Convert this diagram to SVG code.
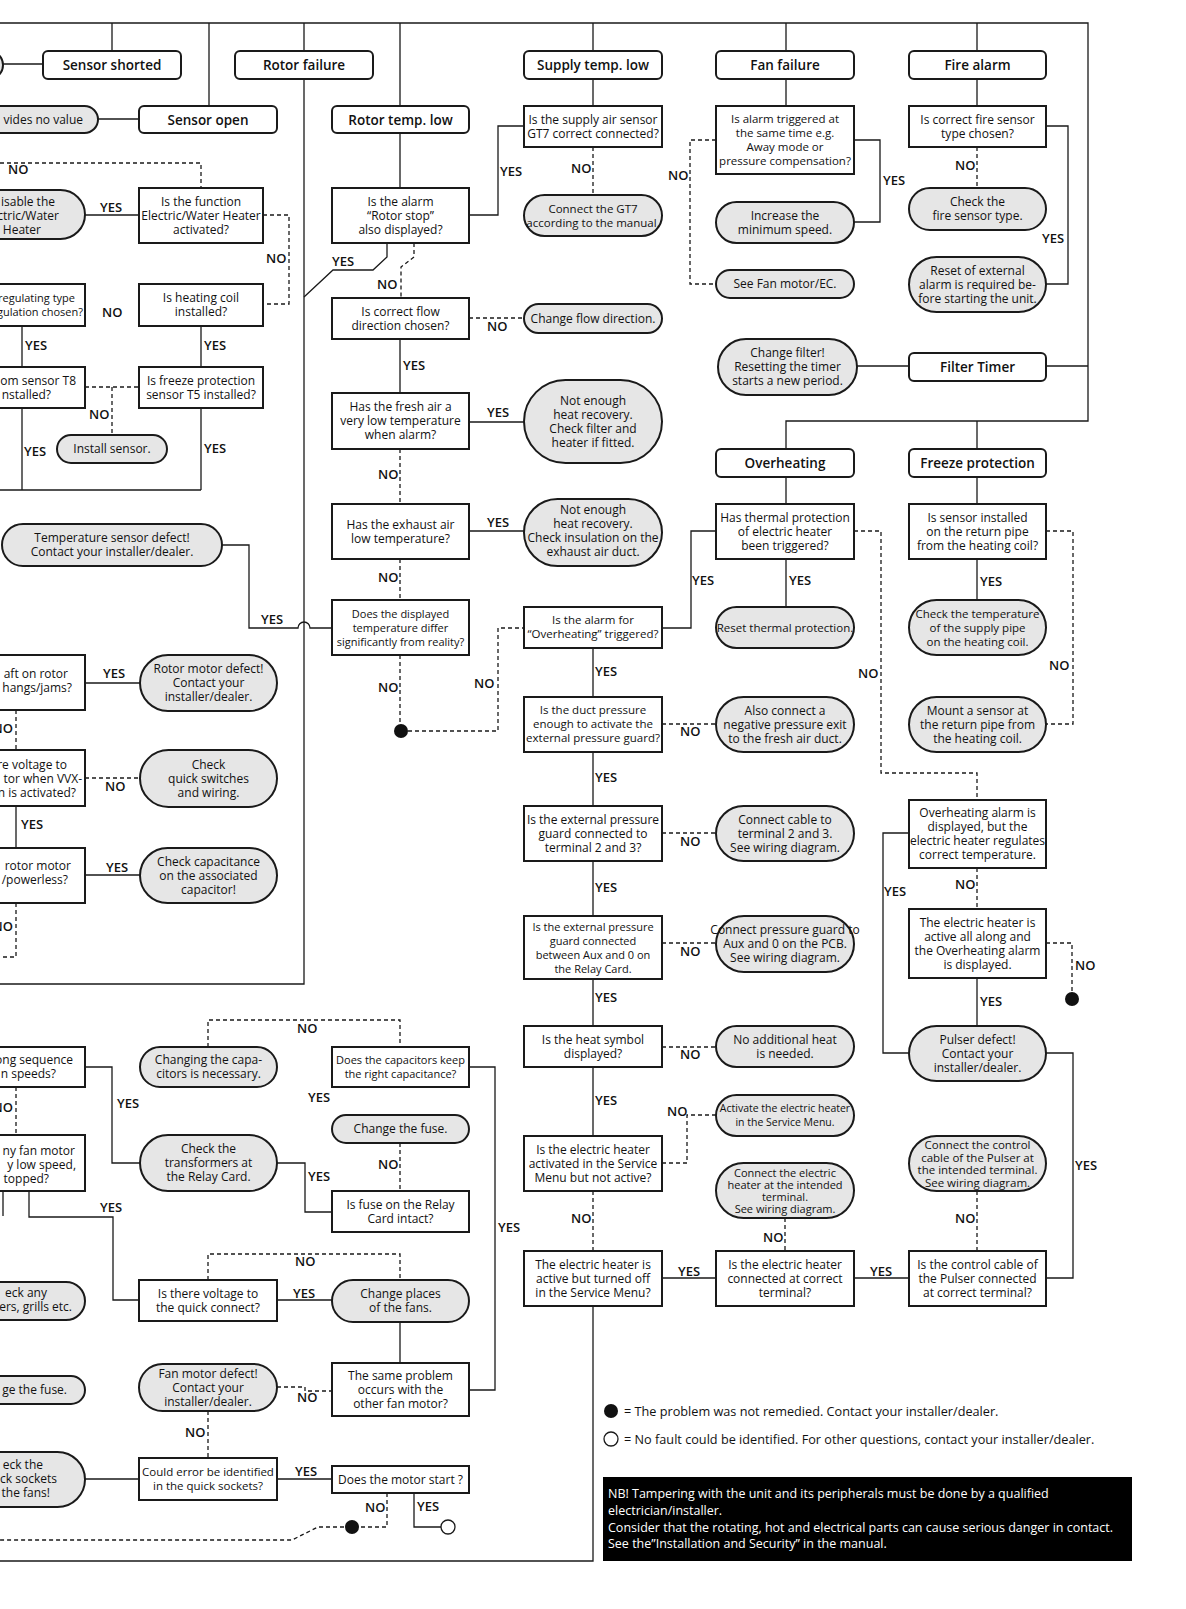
<svg xmlns="http://www.w3.org/2000/svg" width="1186" height="1609" viewBox="0 0 1186 1609">
<style>
.b{fill:#fff;stroke:#1a1a1a;stroke-width:2}
.o{fill:#e6e6e6;stroke:#1a1a1a;stroke-width:2}
.c{fill:none;stroke:#1a1a1a;stroke-width:1.3}
.d{fill:none;stroke:#1a1a1a;stroke-width:1.3;stroke-dasharray:4 3}
text{font-family:"Open Sans","DejaVu Sans",sans-serif;font-size:12px;fill:#111}
.t{text-anchor:middle}
.e{text-anchor:end}
.hd{font-size:13.5px;font-weight:600;text-anchor:middle}
.lb text{font-size:13px;font-weight:600}
.s11{font-size:11px}
.s115{font-size:11.5px}
.s105{font-size:10.5px}
.lg{font-size:12.7px}
.nb{font-size:12.5px;fill:#fff}
</style>
<rect width="1186" height="1609" fill="#fff"/>
<g id="connectors">
<path class="c" d="M0 23H1088V421H786V449M112 23V51M209 23V106M304 23V51M304 79V984H0M400 23V106M400 133V188M593 23V51M593 79V106M786 23V51M786 79V106M977 23V51M977 79V106M977 421V449"/>
<path class="c" d="M3 64H43M98 119H139M85 215H139M22 326V367M201 326V367M22 408V490M201 408V490M0 490H201"/>
<path class="c" d="M222 545H249V628H298A6 6 0 0 1 310 628H332"/>
<path class="c" d="M387 243V257L373 270H333L304 297M469 215H498V126H524M400 339V393M469 422H524M469 531H524M662 628H691V531H716"/>
<path class="c" d="M593 648V697M593 752V806M593 861V916M593 979V1026M593 1067V1136"/>
<path class="c" d="M854 140H880V222H854M1046 126H1068V284H1046M857 366H909M1046 366H1088M786 477V504M786 559V607M977 477V504M977 559V600"/>
<path class="c" d="M909 833H883V1053H909M977 978V1026M1046 1053H1073V1278H1046M854 1278H909M662 1278H716M593 1306V1561H0"/>
<path class="c" d="M85 683H140M16 806V848M85 875H140M85 1067H112V1163H140M277 1163H305V1212H332M469 1067H495V1390H469M29 1191V1217H113V1300H139M3 1191V1216M277 1300H332M400 1322V1363M85 1479H139M277 1479H332M414 1493V1527H441"/>
<path class="d" d="M0 163H201V188M263 215H289V304H263M85 387H139M112 387V435M414 243V257L401 267V298M593 147V195M469 318H524M400 449V504M400 559V600M400 655V724M401 731H498V628H524"/>
<path class="d" d="M716 140H690V284H716M977 147V188M662 724H716M662 833H716M662 943H716M662 1047H716M662 1163H687V1115H716M593 1191V1251M785 1218V1251"/>
<path class="d" d="M854 531H881V773H977V800M1046 531H1073V724H1046M977 868V909M1046 943H1072V992M977 1191V1251"/>
<path class="d" d="M16 710V750M85 778H140M16 903V957H0M208 1047V1020H400V1047M16 1087V1135M400 1143V1191M208 1280V1254H400V1280M277 1387H305V1391H332M208 1411V1458M387 1493V1527H318L292 1540H0"/>
<circle cx="401" cy="731" r="7" fill="#111"/>
<circle cx="1072" cy="999" r="7" fill="#111"/>
<circle cx="352" cy="1527" r="7" fill="#111"/>
<circle cx="448" cy="1527" r="7" fill="#fff" stroke="#1a1a1a" stroke-width="1.3"/>
</g>
<g id="labels" class="lb">
<text x="100" y="212">YES</text><text x="25" y="350">YES</text><text x="204" y="350">YES</text><text x="24" y="456">YES</text><text x="204" y="453">YES</text><text x="261" y="624">YES</text><text x="332" y="266">YES</text><text x="500" y="176">YES</text><text x="403" y="370">YES</text><text x="487" y="417">YES</text><text x="487" y="527">YES</text><text x="692" y="585">YES</text><text x="595" y="676">YES</text><text x="595" y="782">YES</text><text x="595" y="892">YES</text><text x="595" y="1002">YES</text><text x="595" y="1105">YES</text><text x="789" y="585">YES</text><text x="980" y="586">YES</text><text x="883" y="185">YES</text><text x="1042" y="243">YES</text><text x="884" y="896">YES</text><text x="980" y="1006">YES</text><text x="1075" y="1170">YES</text><text x="678" y="1276">YES</text><text x="870" y="1276">YES</text><text x="103" y="678">YES</text><text x="21" y="829">YES</text><text x="106" y="872">YES</text><text x="117" y="1108">YES</text><text x="308" y="1181">YES</text><text x="308" y="1102">YES</text><text x="498" y="1232">YES</text><text x="100" y="1212">YES</text><text x="293" y="1298">YES</text><text x="295" y="1476">YES</text><text x="417" y="1511">YES</text>
<text x="8" y="174">NO</text><text x="266" y="263">NO</text><text x="102" y="317">NO</text><text x="89" y="419">NO</text><text x="377" y="289">NO</text><text x="571" y="173">NO</text><text x="487" y="331">NO</text><text x="378" y="479">NO</text><text x="378" y="582">NO</text><text x="378" y="692">NO</text><text x="474" y="688">NO</text><text x="668" y="180">NO</text><text x="955" y="170">NO</text><text x="680" y="736">NO</text><text x="680" y="846">NO</text><text x="680" y="956">NO</text><text x="680" y="1059">NO</text><text x="667" y="1116">NO</text><text x="571" y="1223">NO</text><text x="763" y="1242">NO</text><text x="858" y="678">NO</text><text x="1049" y="670">NO</text><text x="955" y="889">NO</text><text x="1075" y="970">NO</text><text x="955" y="1223">NO</text><text x="105" y="791">NO</text><text x="297" y="1033">NO</text><text x="378" y="1169">NO</text><text x="295" y="1266">NO</text><text x="297" y="1402">NO</text><text x="185" y="1437">NO</text><text x="365" y="1512">NO</text>
<text class="e" x="13" y="733">NO</text><text class="e" x="13" y="931">NO</text><text class="e" x="13" y="1112">NO</text>
</g>
<g id="h-sensor-shorted"><rect class="b" x="43" y="51" width="138" height="28" rx="5"/><text class="hd" x="112" y="70">Sensor shorted</text></g>
<g id="h-rotor-failure"><rect class="b" x="235" y="51" width="138" height="28" rx="5"/><text class="hd" x="304" y="70">Rotor failure</text></g>
<g id="h-supply-temp"><rect class="b" x="524" y="51" width="138" height="28" rx="5"/><text class="hd" x="593" y="70">Supply temp. low</text></g>
<g id="h-fan-failure"><rect class="b" x="716" y="51" width="138" height="28" rx="5"/><text class="hd" x="785" y="70">Fan failure</text></g>
<g id="h-fire-alarm"><rect class="b" x="909" y="51" width="137" height="28" rx="5"/><text class="hd" x="977.5" y="70">Fire alarm</text></g>
<g id="h-sensor-open"><rect class="b" x="139" y="106" width="138" height="27" rx="5"/><text class="hd" x="208" y="124.5">Sensor open</text></g>
<g id="h-rotor-temp"><rect class="b" x="332" y="106" width="137" height="27" rx="5"/><text class="hd" x="400.5" y="124.5">Rotor temp. low</text></g>
<g id="h-filter-timer"><rect class="b" x="909" y="353" width="137" height="28" rx="5"/><text class="hd" x="977.5" y="372">Filter Timer</text></g>
<g id="h-overheating"><rect class="b" x="716" y="449" width="138" height="28" rx="5"/><text class="hd" x="785" y="468">Overheating</text></g>
<g id="h-freeze"><rect class="b" x="909" y="449" width="137" height="28" rx="5"/><text class="hd" x="977.5" y="468">Freeze protection</text></g>
<g id="q-func"><rect class="b" x="139" y="188" width="124" height="55"/><text class="t"><tspan x="201" y="205.5">Is the function</tspan><tspan x="201" y="219.5">Electric/Water Heater</tspan><tspan x="201" y="233.5">activated?</tspan></text></g>
<g id="q-coil"><rect class="b" x="139" y="284" width="124" height="42"/><text class="t"><tspan x="201" y="302">Is heating coil</tspan><tspan x="201" y="316">installed?</tspan></text></g>
<g id="q-t5"><rect class="b" x="139" y="367" width="124" height="41"/><text class="t"><tspan x="201" y="384.5">Is freeze protection</tspan><tspan x="201" y="398.5">sensor T5 installed?</tspan></text></g>
<g id="q-rotorstop"><rect class="b" x="332" y="188" width="137" height="55"/><text class="t"><tspan x="400.5" y="205.5">Is the alarm</tspan><tspan x="400.5" y="219.5">“Rotor stop”</tspan><tspan x="400.5" y="233.5">also displayed?</tspan></text></g>
<g id="q-flow"><rect class="b" x="332" y="298" width="137" height="41"/><text class="t"><tspan x="400.5" y="315.5">Is correct flow</tspan><tspan x="400.5" y="329.5">direction chosen?</tspan></text></g>
<g id="q-fresh"><rect class="b" x="332" y="393" width="137" height="56"/><text class="t"><tspan x="400.5" y="411">Has the fresh air a</tspan><tspan x="400.5" y="425">very low temperature</tspan><tspan x="400.5" y="439">when alarm?</tspan></text></g>
<g id="q-exhaust"><rect class="b" x="332" y="504" width="137" height="55"/><text class="t"><tspan x="400.5" y="528.5">Has the exhaust air</tspan><tspan x="400.5" y="542.5">low temperature?</tspan></text></g>
<g id="q-displayed"><rect class="b" x="332" y="600" width="137" height="55"/><text class="t s11"><tspan x="400.5" y="617.5">Does the displayed</tspan><tspan x="400.5" y="631.5">temperature differ</tspan><tspan x="400.5" y="645.5">significantly from reality?</tspan></text></g>
<g id="q-gt7"><rect class="b" x="524" y="106" width="138" height="41"/><text class="t"><tspan x="593" y="123.5">Is the supply air sensor</tspan><tspan x="593" y="137.5">GT7 correct connected?</tspan></text></g>
<g id="q-overheat"><rect class="b" x="524" y="607" width="138" height="41"/><text class="t s115"><tspan x="593" y="623.5">Is the alarm for</tspan><tspan x="593" y="637.5">“Overheating” triggered?</tspan></text></g>
<g id="q-duct"><rect class="b" x="524" y="697" width="138" height="55"/><text class="t s115"><tspan x="593" y="714">Is the duct pressure</tspan><tspan x="593" y="728">enough to activate the</tspan><tspan x="593" y="742">external pressure guard?</tspan></text></g>
<g id="q-ext1"><rect class="b" x="524" y="806" width="138" height="55"/><text class="t"><tspan x="593" y="823.5">Is the external pressure</tspan><tspan x="593" y="837.5">guard connected to</tspan><tspan x="593" y="851.5">terminal 2 and 3?</tspan></text></g>
<g id="q-ext2"><rect class="b" x="524" y="916" width="138" height="63"/><text class="t s11"><tspan x="593" y="930.5">Is the external pressure</tspan><tspan x="593" y="944.5">guard connected</tspan><tspan x="593" y="958.5">between Aux and 0 on</tspan><tspan x="593" y="972.5">the Relay Card.</tspan></text></g>
<g id="q-heat"><rect class="b" x="524" y="1026" width="138" height="41"/><text class="t"><tspan x="593" y="1043.5">Is the heat symbol</tspan><tspan x="593" y="1057.5">displayed?</tspan></text></g>
<g id="q-elact"><rect class="b" x="524" y="1136" width="138" height="55"/><text class="t"><tspan x="593" y="1153.5">Is the electric heater</tspan><tspan x="593" y="1167.5">activated in the Service</tspan><tspan x="593" y="1181.5">Menu but not active?</tspan></text></g>
<g id="q-eloff"><rect class="b" x="524" y="1251" width="138" height="55"/><text class="t"><tspan x="593" y="1268.5">The electric heater is</tspan><tspan x="593" y="1282.5">active but turned off</tspan><tspan x="593" y="1296.5">in the Service Menu?</tspan></text></g>
<g id="q-fanalarm"><rect class="b" x="716" y="106" width="138" height="68"/><text class="t s115"><tspan x="785" y="123">Is alarm triggered at</tspan><tspan x="785" y="137">the same time e.g.</tspan><tspan x="785" y="151">Away mode or</tspan><tspan x="785" y="165">pressure compensation?</tspan></text></g>
<g id="q-thermal"><rect class="b" x="716" y="504" width="138" height="55"/><text class="t"><tspan x="785" y="521.5">Has thermal protection</tspan><tspan x="785" y="535.5">of electric heater</tspan><tspan x="785" y="549.5">been triggered?</tspan></text></g>
<g id="q-elterm"><rect class="b" x="716" y="1251" width="138" height="55"/><text class="t"><tspan x="785" y="1268.5">Is the electric heater</tspan><tspan x="785" y="1282.5">connected at correct</tspan><tspan x="785" y="1296.5">terminal?</tspan></text></g>
<g id="q-fire"><rect class="b" x="909" y="106" width="137" height="41"/><text class="t"><tspan x="977.5" y="123.5">Is correct fire sensor</tspan><tspan x="977.5" y="137.5">type chosen?</tspan></text></g>
<g id="q-sensorret"><rect class="b" x="909" y="504" width="137" height="55"/><text class="t"><tspan x="977.5" y="521.5">Is sensor installed</tspan><tspan x="977.5" y="535.5">on the return pipe</tspan><tspan x="977.5" y="549.5">from the heating coil?</tspan></text></g>
<g id="q-ohdisp"><rect class="b" x="909" y="800" width="137" height="68"/><text class="t"><tspan x="977.5" y="817">Overheating alarm is</tspan><tspan x="977.5" y="831">displayed, but the</tspan><tspan x="977.5" y="845">electric heater regulates</tspan><tspan x="977.5" y="859">correct temperature.</tspan></text></g>
<g id="q-ohactive"><rect class="b" x="909" y="909" width="137" height="69"/><text class="t"><tspan x="977.5" y="926.5">The electric heater is</tspan><tspan x="977.5" y="940.5">active all along and</tspan><tspan x="977.5" y="954.5">the Overheating alarm</tspan><tspan x="977.5" y="968.5">is displayed.</tspan></text></g>
<g id="q-pulser"><rect class="b" x="909" y="1251" width="137" height="55"/><text class="t"><tspan x="977.5" y="1268.5">Is the control cable of</tspan><tspan x="977.5" y="1282.5">the Pulser connected</tspan><tspan x="977.5" y="1296.5">at correct terminal?</tspan></text></g>
<g id="q-cap"><rect class="b" x="332" y="1047" width="137" height="40"/><text class="t s11"><tspan x="400.5" y="1063.5">Does the capacitors keep</tspan><tspan x="400.5" y="1077.5">the right capacitance?</tspan></text></g>
<g id="q-fuse"><rect class="b" x="332" y="1191" width="137" height="41"/><text class="t"><tspan x="400.5" y="1208.5">Is fuse on the Relay</tspan><tspan x="400.5" y="1222.5">Card intact?</tspan></text></g>
<g id="q-volt"><rect class="b" x="139" y="1280" width="138" height="41"/><text class="t"><tspan x="208" y="1297.5">Is there voltage to</tspan><tspan x="208" y="1311.5">the quick connect?</tspan></text></g>
<g id="q-same"><rect class="b" x="332" y="1363" width="137" height="53"/><text class="t"><tspan x="400.5" y="1379.5">The same problem</tspan><tspan x="400.5" y="1393.5">occurs with the</tspan><tspan x="400.5" y="1407.5">other fan motor?</tspan></text></g>
<g id="q-err"><rect class="b" x="139" y="1458" width="138" height="42"/><text class="t s115"><tspan x="208" y="1476">Could error be identified</tspan><tspan x="208" y="1490">in the quick sockets?</tspan></text></g>
<g id="q-start"><rect class="b" x="332" y="1466" width="137" height="27"/><text class="t" x="400.5" y="1483.5">Does the motor start ?</text></g>
<g id="o-gt7"><rect class="o" x="524" y="195" width="138" height="41" rx="20.5"/><text class="t s115"><tspan x="593" y="212.5">Connect the GT7</tspan><tspan x="593" y="226.5">according to the manual.</tspan></text></g>
<g id="o-flow"><rect class="o" x="524" y="304" width="138" height="29" rx="14.5"/><text class="t" x="593" y="322.5">Change flow direction.</text></g>
<g id="o-heat1"><rect class="o" x="524" y="380" width="138" height="83" rx="41.5"/><text class="t"><tspan x="593" y="404.5">Not enough</tspan><tspan x="593" y="418.5">heat recovery.</tspan><tspan x="593" y="432.5">Check filter and</tspan><tspan x="593" y="446.5">heater if fitted.</tspan></text></g>
<g id="o-heat2"><rect class="o" x="524" y="499" width="138" height="67" rx="33.5"/><text class="t"><tspan x="593" y="514">Not enough</tspan><tspan x="593" y="528">heat recovery.</tspan><tspan x="593" y="542">Check insulation on the</tspan><tspan x="593" y="556">exhaust air duct.</tspan></text></g>
<g id="o-speed"><rect class="o" x="716" y="202" width="138" height="41" rx="20.5"/><text class="t"><tspan x="785" y="219.5">Increase the</tspan><tspan x="785" y="233.5">minimum speed.</tspan></text></g>
<g id="o-fanec"><rect class="o" x="716" y="270" width="138" height="28" rx="14"/><text class="t" x="785" y="288">See Fan motor/EC.</text></g>
<g id="o-filter"><rect class="o" x="718" y="339" width="139" height="56" rx="28"/><text class="t"><tspan x="787.5" y="357">Change filter!</tspan><tspan x="787.5" y="371">Resetting the timer</tspan><tspan x="787.5" y="385">starts a new period.</tspan></text></g>
<g id="o-firetype"><rect class="o" x="909" y="188" width="137" height="42" rx="21"/><text class="t"><tspan x="977.5" y="206">Check the</tspan><tspan x="977.5" y="220">fire sensor type.</tspan></text></g>
<g id="o-reset"><rect class="o" x="909" y="257" width="137" height="55" rx="27.5"/><text class="t"><tspan x="977.5" y="274.5">Reset of external</tspan><tspan x="977.5" y="288.5">alarm is required be-</tspan><tspan x="977.5" y="302.5">fore starting the unit.</tspan></text></g>
<g id="o-thermal"><rect class="o" x="716" y="607" width="138" height="41" rx="20.5"/><text class="t s115" x="785" y="631.5">Reset thermal protection.</text></g>
<g id="o-negp"><rect class="o" x="716" y="697" width="138" height="55" rx="27.5"/><text class="t"><tspan x="785" y="714.5">Also connect a</tspan><tspan x="785" y="728.5">negative pressure exit</tspan><tspan x="785" y="742.5">to the fresh air duct.</tspan></text></g>
<g id="o-cable23"><rect class="o" x="716" y="806" width="138" height="55" rx="27.5"/><text class="t"><tspan x="785" y="823.5">Connect cable to</tspan><tspan x="785" y="837.5">terminal 2 and 3.</tspan><tspan x="785" y="851.5">See wiring diagram.</tspan></text></g>
<g id="o-aux"><rect class="o" x="716" y="916" width="138" height="56" rx="28"/><text class="t"><tspan x="785" y="934">Connect pressure guard to</tspan><tspan x="785" y="948">Aux and 0 on the PCB.</tspan><tspan x="785" y="962">See wiring diagram.</tspan></text></g>
<g id="o-noheat"><rect class="o" x="716" y="1026" width="138" height="41" rx="20.5"/><text class="t"><tspan x="785" y="1043.5">No additional heat</tspan><tspan x="785" y="1057.5">is needed.</tspan></text></g>
<g id="o-activate"><rect class="o" x="716" y="1095" width="138" height="41" rx="20.5"/><text class="t s105"><tspan x="785" y="1112">Activate the electric heater</tspan><tspan x="785" y="1126">in the Service Menu.</tspan></text></g>
<g id="o-connheater"><rect class="o" x="716" y="1163" width="138" height="55" rx="27.5"/><text class="t s11"><tspan x="785" y="1176.5">Connect the electric</tspan><tspan x="785" y="1188.5">heater at the intended</tspan><tspan x="785" y="1200.5">terminal.</tspan><tspan x="785" y="1212.5">See wiring diagram.</tspan></text></g>
<g id="o-supplypipe"><rect class="o" x="909" y="600" width="137" height="55" rx="27.5"/><text class="t s115"><tspan x="977.5" y="617.5">Check the temperature</tspan><tspan x="977.5" y="631.5">of the supply pipe</tspan><tspan x="977.5" y="645.5">on the heating coil.</tspan></text></g>
<g id="o-mount"><rect class="o" x="909" y="697" width="137" height="55" rx="27.5"/><text class="t"><tspan x="977.5" y="714.5">Mount a sensor at</tspan><tspan x="977.5" y="728.5">the return pipe from</tspan><tspan x="977.5" y="742.5">the heating coil.</tspan></text></g>
<g id="o-pulser"><rect class="o" x="909" y="1026" width="137" height="55" rx="27.5"/><text class="t"><tspan x="977.5" y="1043.5">Pulser defect!</tspan><tspan x="977.5" y="1057.5">Contact your</tspan><tspan x="977.5" y="1071.5">installer/dealer.</tspan></text></g>
<g id="o-pulsercable"><rect class="o" x="909" y="1136" width="137" height="55" rx="27.5"/><text class="t s115"><tspan x="977.5" y="1149">Connect the control</tspan><tspan x="977.5" y="1161.5">cable of the Pulser at</tspan><tspan x="977.5" y="1174">the intended terminal.</tspan><tspan x="977.5" y="1186.5">See wiring diagram.</tspan></text></g>
<g id="o-tempdefect"><rect class="o" x="2" y="524" width="220" height="42" rx="21"/><text class="t"><tspan x="112" y="542">Temperature sensor defect!</tspan><tspan x="112" y="556">Contact your installer/dealer.</tspan></text></g>
<g id="o-install"><rect class="o" x="57" y="435" width="110" height="28" rx="14"/><text class="t" x="112" y="453">Install sensor.</text></g>
<g id="o-rotormotor"><rect class="o" x="140" y="655" width="137" height="56" rx="28"/><text class="t"><tspan x="208.5" y="673">Rotor motor defect!</tspan><tspan x="208.5" y="687">Contact your</tspan><tspan x="208.5" y="701">installer/dealer.</tspan></text></g>
<g id="o-quick"><rect class="o" x="140" y="750" width="137" height="57" rx="28.5"/><text class="t"><tspan x="208.5" y="768.5">Check</tspan><tspan x="208.5" y="782.5">quick switches</tspan><tspan x="208.5" y="796.5">and wiring.</tspan></text></g>
<g id="o-capac"><rect class="o" x="140" y="848" width="137" height="55" rx="27.5"/><text class="t"><tspan x="208.5" y="865.5">Check capacitance</tspan><tspan x="208.5" y="879.5">on the associated</tspan><tspan x="208.5" y="893.5">capacitor!</tspan></text></g>
<g id="o-changecap"><rect class="o" x="140" y="1047" width="137" height="40" rx="20"/><text class="t"><tspan x="208.5" y="1064">Changing the capa-</tspan><tspan x="208.5" y="1078">citors is necessary.</tspan></text></g>
<g id="o-transf"><rect class="o" x="140" y="1135" width="137" height="56" rx="28"/><text class="t"><tspan x="208.5" y="1153">Check the</tspan><tspan x="208.5" y="1167">transformers at</tspan><tspan x="208.5" y="1181">the Relay Card.</tspan></text></g>
<g id="o-fuse"><rect class="o" x="332" y="1115" width="137" height="28" rx="14"/><text class="t" x="400.5" y="1133">Change the fuse.</text></g>
<g id="o-places"><rect class="o" x="332" y="1280" width="137" height="42" rx="21"/><text class="t"><tspan x="400.5" y="1298">Change places</tspan><tspan x="400.5" y="1312">of the fans.</tspan></text></g>
<g id="o-fanmotor"><rect class="o" x="139" y="1364" width="138" height="47" rx="23.5"/><text class="t"><tspan x="208" y="1377.5">Fan motor defect!</tspan><tspan x="208" y="1391.5">Contact your</tspan><tspan x="208" y="1405.5">installer/dealer.</tspan></text></g>
<g id="o-left1"><rect class="o" x="-135" y="51" width="138" height="28" rx="14"/></g>
<g id="o-left2"><rect class="o" x="-40" y="106" width="138" height="27" rx="13.5"/><text class="e" x="83" y="123.5">vides no value</text></g>
<g id="o-left3"><rect class="o" x="-53" y="190" width="138" height="49" rx="24.5"/><text class="e"><tspan x="55" y="205.5">isable the</tspan><tspan x="59" y="219.5">ctric/Water</tspan><tspan x="41" y="233.5">Heater</tspan></text></g>
<g id="o-left4"><rect class="o" x="-53" y="1282" width="138" height="38" rx="19"/><text class="e"><tspan x="47" y="1297">eck any</tspan><tspan x="72" y="1311">ers, grills etc.</tspan></text></g>
<g id="o-left5"><rect class="o" x="-53" y="1376" width="138" height="28" rx="14"/><text class="e" x="67" y="1394">ge the fuse.</text></g>
<g id="o-left6"><rect class="o" x="-53" y="1452" width="138" height="55" rx="27.5"/><text class="e"><tspan x="43" y="1469">eck the</tspan><tspan x="57" y="1483">ck sockets</tspan><tspan x="50" y="1497">the fans!</tspan></text></g>
<g id="q-left1"><rect class="b" x="-53" y="284" width="138" height="42"/><text class="e s11"><tspan x="75" y="302">regulating type</tspan><tspan x="83" y="316">gulation chosen?</tspan></text></g>
<g id="q-left2"><rect class="b" x="-53" y="367" width="138" height="41"/><text class="e"><tspan x="76" y="384.5">om sensor T8</tspan><tspan x="51" y="398.5">nstalled?</tspan></text></g>
<g id="q-left3"><rect class="b" x="-53" y="655" width="138" height="55"/><text class="e"><tspan x="68" y="678">aft on rotor</tspan><tspan x="72" y="692">hangs/jams?</tspan></text></g>
<g id="q-left4"><rect class="b" x="-53" y="750" width="138" height="56"/><text class="e"><tspan x="67" y="769">re voltage to</tspan><tspan x="82" y="783">tor when VVX-</tspan><tspan x="76" y="797">n is activated?</tspan></text></g>
<g id="q-left5"><rect class="b" x="-53" y="848" width="138" height="55"/><text class="e"><tspan x="71" y="870">rotor motor</tspan><tspan x="68" y="884">/powerless?</tspan></text></g>
<g id="q-left6"><rect class="b" x="-53" y="1047" width="138" height="40"/><text class="e"><tspan x="73" y="1064">ong sequence</tspan><tspan x="56" y="1078">n speeds?</tspan></text></g>
<g id="q-left7"><rect class="b" x="-53" y="1135" width="138" height="56"/><text class="e"><tspan x="75" y="1155">ny fan motor</tspan><tspan x="76" y="1169">y low speed,</tspan><tspan x="49" y="1183">topped?</tspan></text></g>
<g id="legend">
<circle cx="611" cy="1411" r="7" fill="#111"/>
<text class="lg" x="624" y="1416">= The problem was not remedied. Contact your installer/dealer.</text>
<circle cx="611" cy="1439" r="7" fill="#fff" stroke="#1a1a1a" stroke-width="1.3"/>
<text class="lg" x="624" y="1444">= No fault could be identified. For other questions, contact your installer/dealer.</text>
</g>
<g id="warning">
<rect x="603" y="1477" width="529" height="84" fill="#000"/>
<text class="nb"><tspan x="608" y="1498">NB! Tampering with the unit and its peripherals must be done by a qualified</tspan><tspan x="608" y="1515">electrician/installer.</tspan><tspan x="608" y="1532">Consider that the rotating, hot and electrical parts can cause serious danger in contact.</tspan><tspan x="608" y="1548">See the”Installation and Security” in the manual.</tspan></text>
</g>
</svg>
